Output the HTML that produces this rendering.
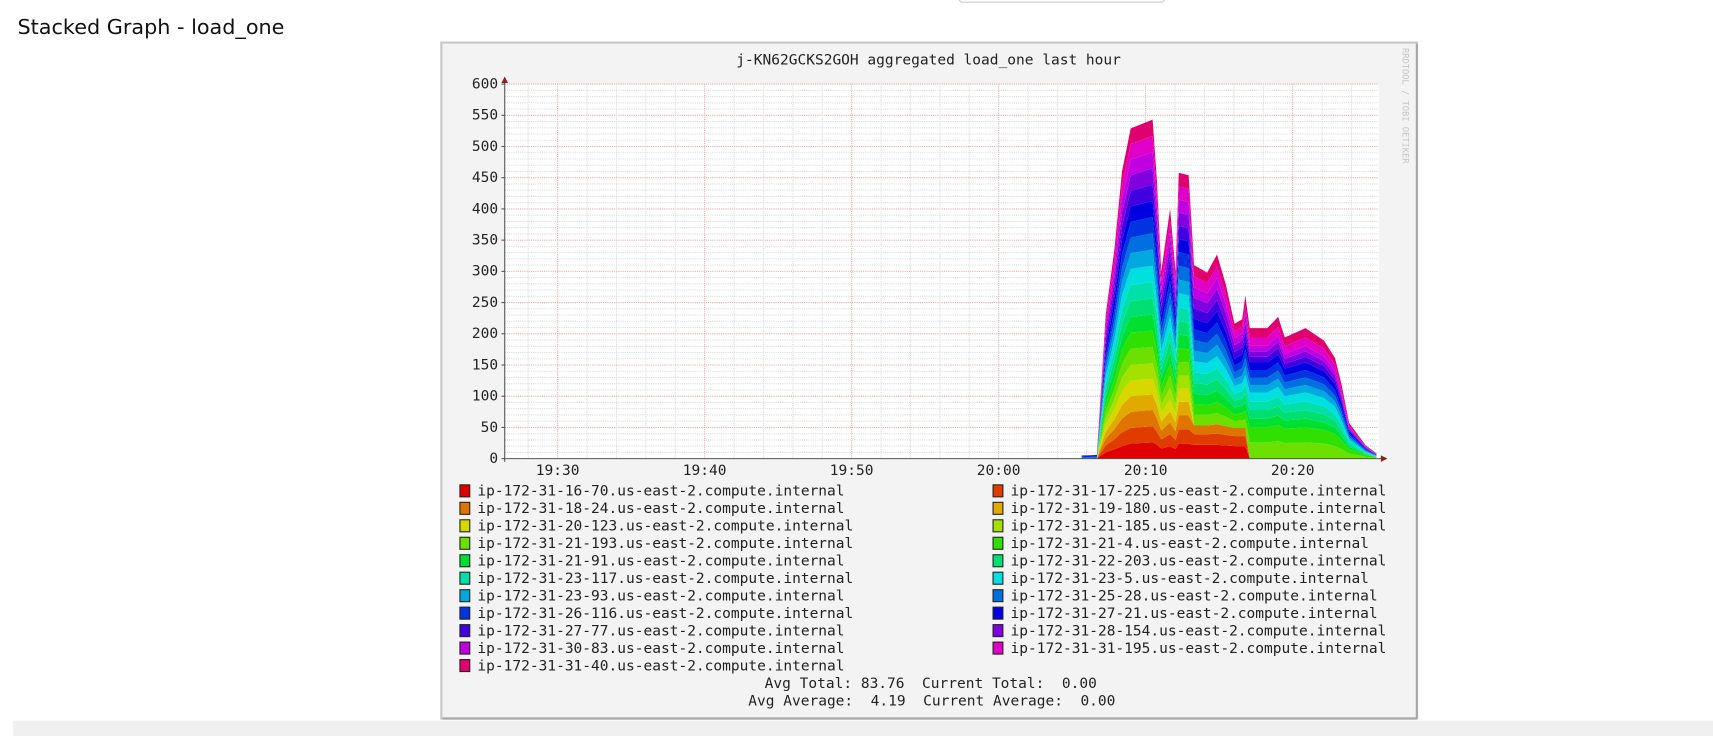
<!DOCTYPE html>
<html><head><meta charset="utf-8">
<style>
html,body{margin:0;padding:0;background:#fff;width:1713px;height:736px;overflow:hidden}
svg{display:block}
.mono{font-family:"DejaVu Sans Mono","Liberation Mono",monospace;font-size:13.3px;fill:#222}
</style></head>
<body>
<svg id="root" width="1713" height="736" viewBox="0 0 1568 674" preserveAspectRatio="none" xmlns="http://www.w3.org/2000/svg">
<rect x="878" y="-4" width="188" height="6" rx="3" fill="#fff" stroke="#ccc"/>
<text x="16" y="31" style="font-family:'DejaVu Sans','Liberation Sans',sans-serif;font-size:19px;fill:#111">Stacked Graph - load_one</text>
<rect x="12" y="660" width="1556" height="14" fill="#f0f0f0"/>
<g>
<rect x="404" y="39" width="893" height="619" fill="#f3f3f3" stroke="#c8c8c8" stroke-width="2"/>
<line x1="1297" y1="40" x2="1297" y2="658" stroke="#a8a8a8" stroke-width="2"/>
<line x1="405" y1="658" x2="1297" y2="658" stroke="#a8a8a8" stroke-width="2"/>
<text class="mono" x="850" y="59" text-anchor="middle">j-KN62GCKS2GOH aggregated load_one last hour</text>
<text x="1284" y="44" transform="rotate(90 1284 44)" style="font-family:'DejaVu Sans Mono',monospace;font-size:8px;fill:#c4c4c4">RRDTOOL / TOBI OETIKER</text>
<rect x="462" y="77" width="800" height="343" fill="#fff"/>
<g id="grid"></g><g id="areas"></g><g id="axes"></g><g id="legend"></g>
<text class="mono" x="1004" y="630" text-anchor="end" xml:space="preserve">Avg Total: 83.76  Current Total:  0.00</text>
<text class="mono" x="1021" y="646" text-anchor="end" xml:space="preserve">Avg Average:  4.19  Current Average:  0.00</text>
</g>
</svg>
<script>
// minutes after 20:00
const times=[5.64,6.68,6.83,7.28,7.87,8.39,8.98,10.47,10.77,11.06,11.66,12.03,12.25,12.92,13.29,14.18,14.85,15.45,16.04,16.56,16.78,17.08,18.27,19.01,19.46,20.87,22.13,22.88,23.32,23.84,24.96,25.70];
const seriesNames=["ip-172-31-16-70","ip-172-31-17-225","ip-172-31-18-24","ip-172-31-19-180","ip-172-31-20-123","ip-172-31-21-185","ip-172-31-21-193","ip-172-31-21-4","ip-172-31-21-91","ip-172-31-22-203","ip-172-31-23-117","ip-172-31-23-5","ip-172-31-23-93","ip-172-31-25-28","ip-172-31-26-116","ip-172-31-27-21","ip-172-31-27-77","ip-172-31-28-154","ip-172-31-30-83","ip-172-31-31-195","ip-172-31-31-40"];
const s0=[0,0,3,10,15,20,24,26,22,16,20,15,24,24,22,22,22,21,20,20,20,0,0,0,0,0,0,0,0,0,0,0];
const s1=[0,0,3,11,16,22,25,26,21,15,19,15,23,23,17,17,18,17,16,16,16,0,0,0,0,0,0,0,0,0,0,0];
const s2=[0,0,3,11,16,22,26,26,21,14,19,14,22,22,14,14,15,14,13,13,13,0,0,0,0,0,0,0,0,0,0,0];
const s3=[0,0,3,11,16,22,25,25,21,14,18,14,22,22,0,0,0,0,0,0,0,0,0,0,0,0,0,0,0,0,0,0];
const s4=[0,0,3,11,16,22,25,25,21,14,19,14,21,21,0,0,0,0,0,0,0,0,0,0,0,0,0,0,0,0,0,0];
const s5=[0,0,3,11,16,22,25,25,21,14,19,14,21,21,0,0,0,0,0,0,0,0,0,0,0,0,0,0,0,0,0,0];
const s6=[0,0,3,11,16,22,26,26,21,14,19,14,22,21,17,17,18,15,11,12,14,26,26,28,25,26,24,20,15,8,3,1];
const s7=[0,0,3,11,16,22,26,26,21,14,19,14,22,21,17,16,18,15,11,12,14,24,24,26,23,24,22,19,14,7,3,1];
const s8=[0,0,3,11,16,22,25,26,21,14,19,14,22,21,17,16,18,15,11,12,14,14,14,15,13,14,12,11,8,4,1,0.5];
const s9=[0,0,3,11,16,22,25,26,21,14,19,14,22,21,17,17,18,15,11,12,14,14,14,15,13,14,13,11,8,4,1,0.5];
const s10=[0,0,3,11,16,22,26,26,21,15,19,15,22,22,17,17,18,15,11,12,14,14,14,15,13,14,13,11,8,4,1.5,0.5];
const s11=[0,0,3,11,16,22,26,26,21,15,19,15,22,22,18,17,19,16,12,12,15,14,14,16,13,14,13,11,8,4,1.5,0.5];
const s12=[1,1,3,11,16,22,25,26,21,14,19,14,22,22,17,16,18,15,11,12,14,12,12,13,11,12,11,9,7,3,1.2,0.5];
const s13=[1,1.5,3,11,16,22,25,26,21,14,19,14,22,22,17,16,18,15,11,12,14,12,12,13,11,12,11,9,7,3.5,1.3,0.6];
const s14=[1,1.5,3,11,16,22,25,26,21,14,19,14,22,22,17,16,18,15,11,11,14,12,12,13,11,12,11,9,7,3.5,1.3,0.6];
const s15=[1,1,3,11,16,22,25,26,21,14,19,14,21,21,17,16,18,15,11,11,14,12,12,13,11,12,10,9,7,3,1.2,0.5];
const s16=[1,1,3,11,16,22,25,26,21,14,19,14,21,21,17,16,18,15,11,11,14,9,9,10,8,9,8,7,5,2,1,0.4];
const s17=[0,0,3,11,16,22,25,26,21,14,19,14,21,21,17,16,18,15,11,11,14,9,9,10,8,9,8,7,5,2,1,0.4];
const s18=[0,0,3,11,16,22,25,26,21,14,19,14,21,21,17,16,18,15,11,11,14,9,9,10,8,9,8,7,5,2,1,0.4];
const s19=[0,0,3,11,16,22,25,26,21,14,19,14,21,21,17,16,18,15,11,11,14,13,13,14,12,13,12,10,7,3,1,0.4];
const s20=[0,0,3,11,16,22,25,26,22,15,20,15,22,22,18,17,19,16,12,12,15,15,15,16,14,15,13,11,8,4,1.5,0.6];
const yTicks=[0,50,100,150,200,250,300,350,400,450,500,550,600];
const xTickLabels=["19:30","19:40","19:50","20:00","20:10","20:20"];
const xTickMinutes=[-30,-20,-10,0,10,20];

const series=[s0,s1,s2,s3,s4,s5,s6,s7,s8,s9,s10,s11,s12,s13,s14,s15,s16,s17,s18,s19,s20];
const colors=["#e00000","#e03c00","#e07400","#e0aa00","#d8d800","#a4e000","#6ce000","#30e000","#00e030","#00e070","#00e0a8","#00e0e0","#00a8e0","#0070e0","#0034e0","#0000e0","#4000e0","#8000e0","#c000e0","#e000c8","#e0006e"];
const NS="http://www.w3.org/2000/svg";
const X0=462,X1=1262,Y0=420,Y1=77,TMIN=-33.6,TMAX=25.85,VMAX=600;
function xs(t){return X0+(t-TMIN)/(TMAX-TMIN)*(X1-X0);}
function ys(v){return Y0-v/VMAX*(Y0-Y1);}
function mk(tag,attrs,parent){const e=document.createElementNS(NS,tag);for(const k in attrs)e.setAttribute(k,attrs[k]);parent.appendChild(e);return e;}
const grid=document.getElementById('grid');
for(let v=10;v<=600;v+=10){
  const major=v%50===0;
  const l=mk('line',{x1:X0,x2:X1,y1:ys(v),y2:ys(v),stroke:major?'#e8a8a8':'#dcdcdc','stroke-width':1,'stroke-dasharray':'1,1'},grid);
  
  
}
for(let t=-32;t<=25;t+=2){
  const major=t%10===0;
  const l=mk('line',{x1:xs(t),x2:xs(t),y1:Y0,y2:Y1,stroke:major?'#e8a8a8':'#dcdcdc','stroke-width':1,'stroke-dasharray':'1,1'},grid);
  
  
}
const areas=document.getElementById('areas');
const cum=times.map(()=>0);
series.forEach((s,i)=>{
  const lower=cum.slice();
  s.forEach((v,j)=>cum[j]+=v);
  let d='M'+xs(times[0])+','+ys(lower[0]);
  times.forEach((t,j)=>{d+=' L'+xs(t)+','+ys(cum[j]);});
  for(let j=times.length-1;j>=0;j--)d+=' L'+xs(times[j])+','+ys(lower[j]);
  const p=mk('path',{d:d+'Z',fill:colors[i]},areas);
  
  
});
const axes=document.getElementById('axes');
let a=mk('line',{x1:X0,x2:X1+4,y1:Y0,y2:Y0,stroke:'#555','stroke-width':1},axes);


a=mk('line',{x1:X0,x2:X0,y1:Y0+3,y2:Y1-5,stroke:'#555','stroke-width':1},axes);


mk('path',{d:`M${X1+2},${Y0-3} L${X1+8},${Y0} L${X1+2},${Y0+3}Z`,fill:'#902020'},axes);
mk('path',{d:`M${X0-3},${Y1-1} L${X0},${Y1-7} L${X0+3},${Y1-1}Z`,fill:'#902020'},axes);
yTicks.forEach(v=>{
  const t=mk('text',{x:X0-6,y:ys(v)+4,'text-anchor':'end','class':'mono','font-size':'12'},axes);
  
  
  t.textContent=v;
  mk('line',{x1:X0-3,x2:X0,y1:ys(v),y2:ys(v),stroke:'#555'},axes);
});
xTickLabels.forEach((lab,i)=>{
  const t=mk('text',{x:xs(xTickMinutes[i]),y:Y0+15,'text-anchor':'middle','class':'mono','font-size':'12'},axes);
  
  
  t.textContent=lab;
});
const leg=document.getElementById('legend');
seriesNames.forEach((n,i)=>{
  const col=i%2,row=Math.floor(i/2);
  const x=col?909:421,y=444+row*16;
  const g=mk('g',{},leg);
  
  
  mk('rect',{x:x,y:y,width:9,height:11,fill:colors[i],stroke:'#222','stroke-width':1},g);
  const t=mk('text',{x:x+16,y:y+10,'class':'mono'},g);
  t.textContent=n+'.us-east-2.compute.internal';
});
</script>
</body></html>
